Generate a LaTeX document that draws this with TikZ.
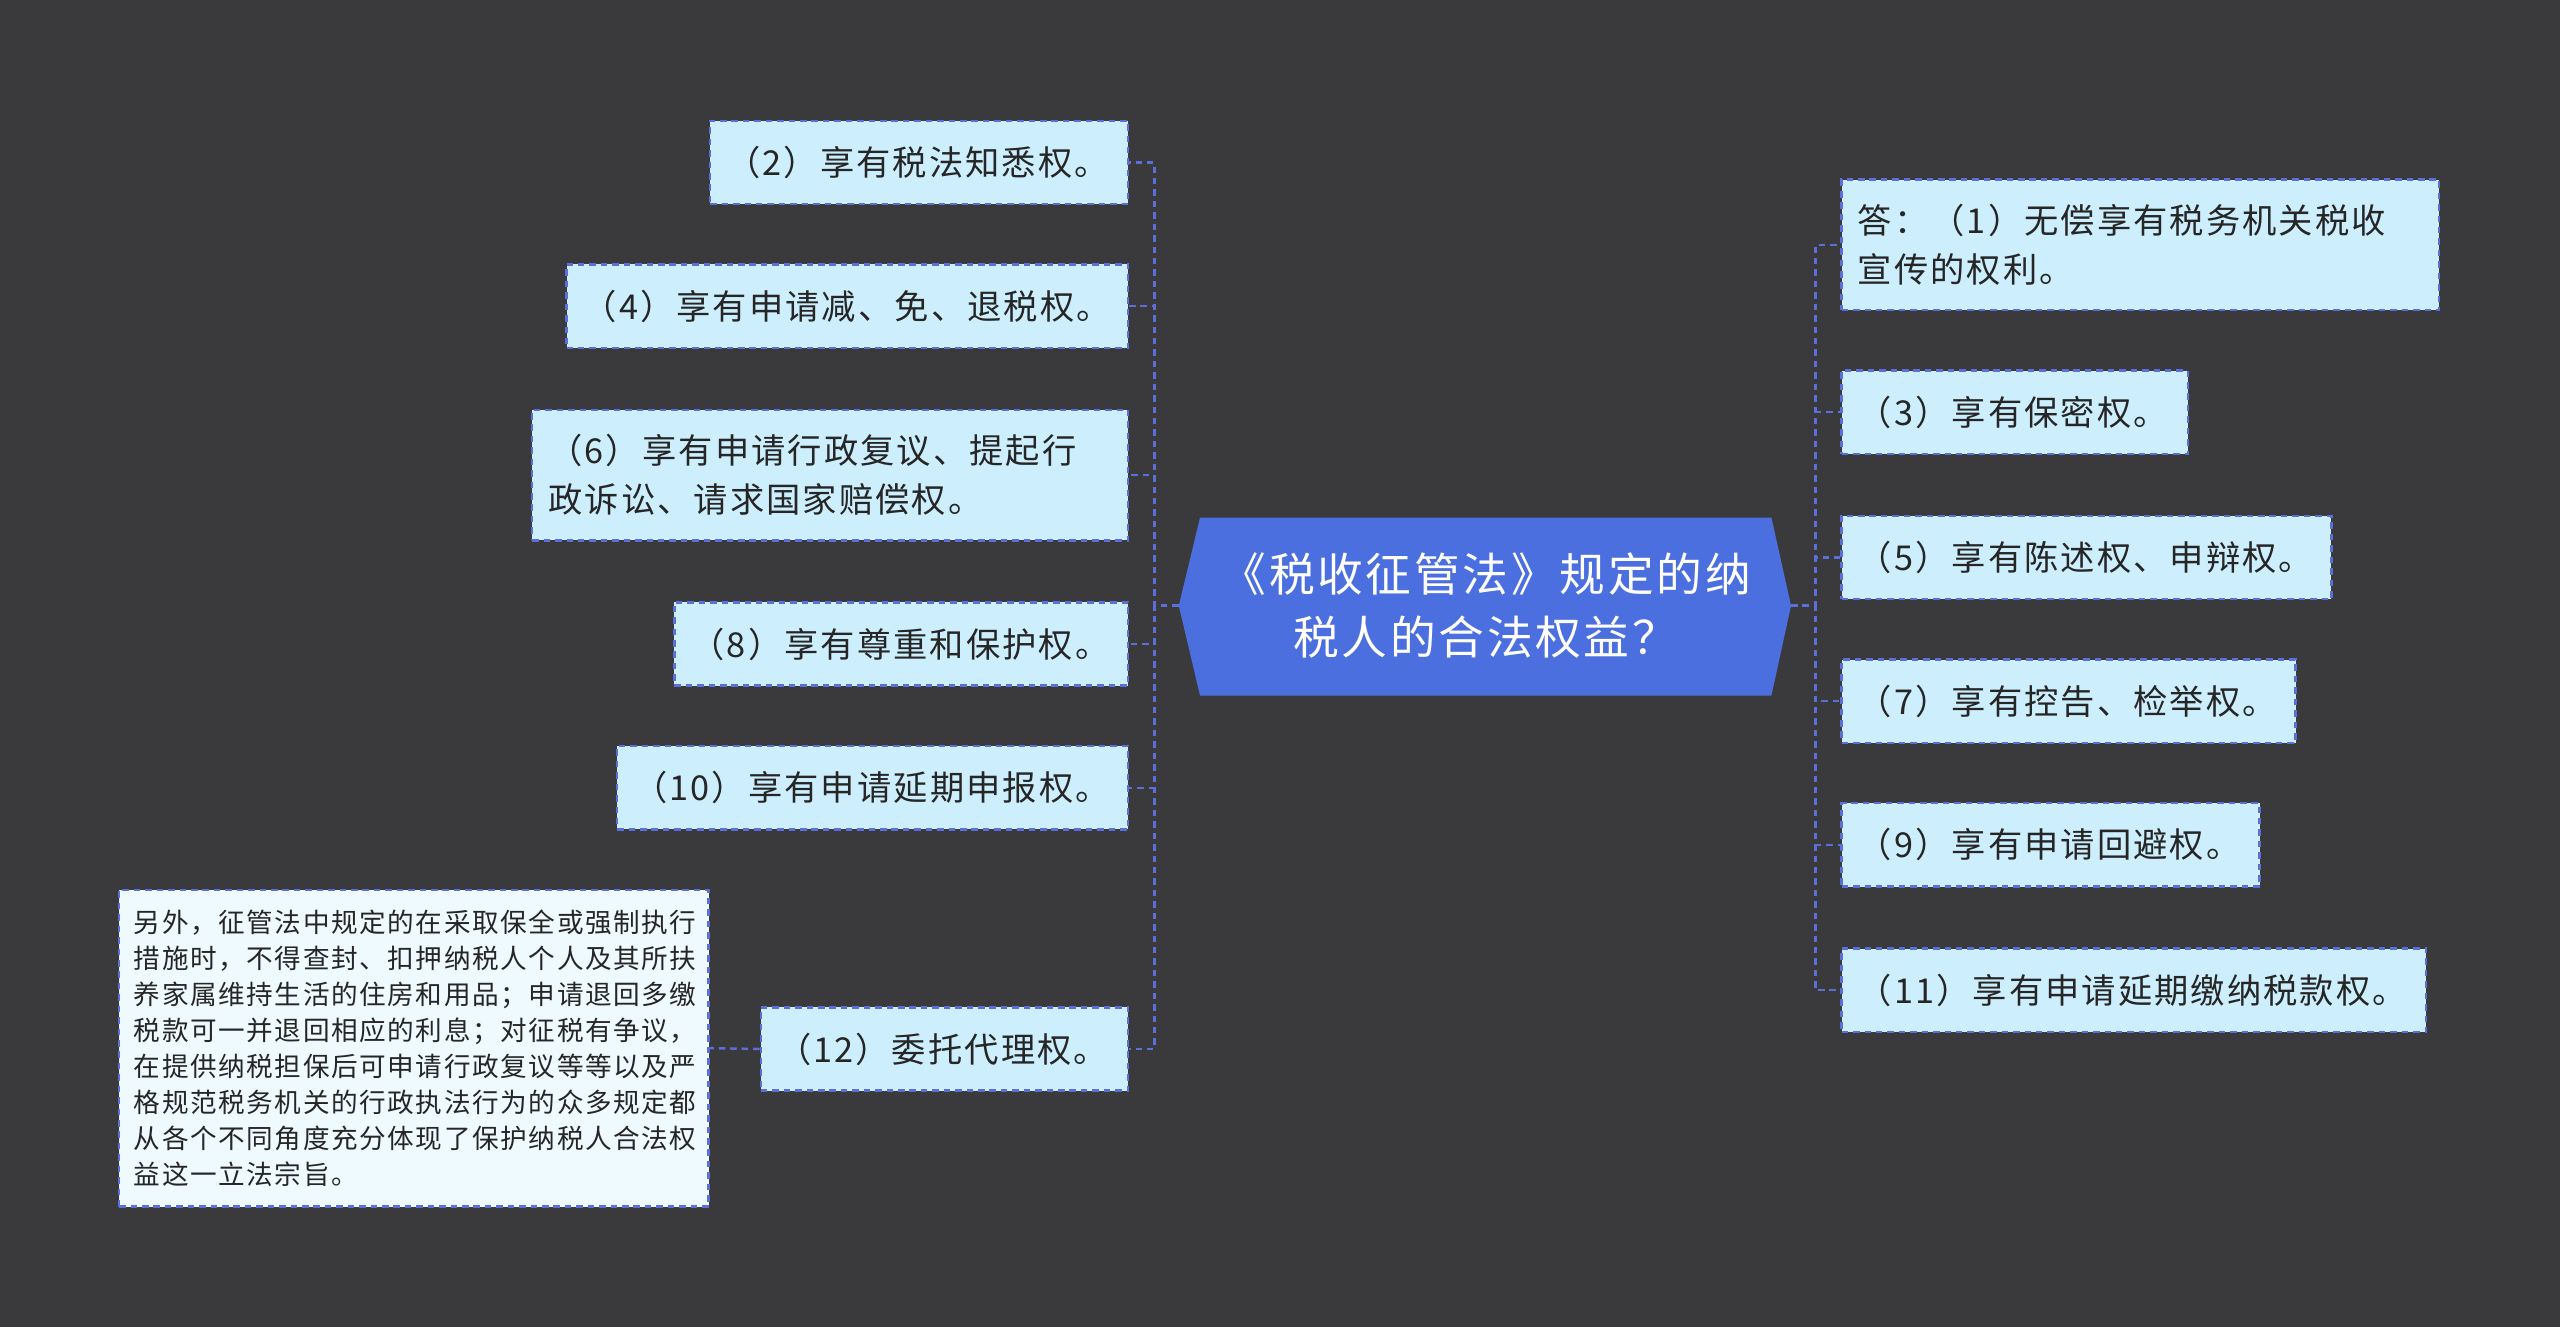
\documentclass[tikz,border=0pt]{standalone}
\usepackage{fontspec}
\newfontfamily\cjk[LetterSpace=6]{Noto Sans CJK SC}
\begin{document}
\begin{tikzpicture}[x=1pt,y=-1pt,
  line/.style={draw=lineblue,dashed,line width=1.5pt,dash pattern=on 4pt off 3pt},
  box/.style={line,fill=boxfill,inner xsep=10pt,inner ysep=0pt,align=left,font=\cjk\fontsize{21}{30}\selectfont,text=black!85},
  notebox/.style={line,fill=notefill,inner xsep=9pt,inner ysep=0pt,align=left,font=\cjk\fontsize{16.3}{22}\selectfont,text=black!85}]
\definecolor{bg}{HTML}{3A3A3C}
\definecolor{lineblue}{HTML}{5B6FD8}
\definecolor{boxfill}{HTML}{CDEFFD}
\definecolor{notefill}{HTML}{EEFAFD}
\definecolor{cblue}{HTML}{4C6FE0}
\fill[bg] (0,0) rectangle (1568,813);
\useasboundingbox (0,0) rectangle (1568,813);
% center
\fill[cblue] (722,371) -- (735,317) -- (1085,317) -- (1097,371) -- (1085,426) -- (735,426) -- cycle;
\node[font=\cjk\fontsize{28}{39}\selectfont,text=white,align=center] (c) at (910,371) {《税收征管法》规定的纳\\税人的合法权益？};
\coordinate (cl) at (722,371);
\coordinate (cr) at (1097,371);
% left
\node[box,minimum width=256,minimum height=51,text width=236] (n2) at (563,99.5) {（2）享有税法知悉权。};
\node[box,minimum width=344,minimum height=51,text width=324] (n4) at (519,187.5) {（4）享有申请减、免、退税权。};
\node[box,minimum width=365,minimum height=80,text width=345] (n6) at (508.5,291) {（6）享有申请行政复议、提起行\\政诉讼、请求国家赔偿权。};
\node[box,minimum width=278,minimum height=51,text width=258] (n8) at (552,394.5) {（8）享有尊重和保护权。};
\node[box,minimum width=313,minimum height=51,text width=293] (n10) at (534.5,482.5) {（10）享有申请延期申报权。};
\node[box,minimum width=225,minimum height=51,text width=205] (n12) at (578.5,642.5) {（12）委托代理权。};
\node[notebox,minimum width=361,minimum height=194,text width=343] (note) at (253.5,642) {另外，征管法中规定的在采取保全或强制执行\\措施时，不得查封、扣押纳税人个人及其所扶\\养家属维持生活的住房和用品；申请退回多缴\\税款可一并退回相应的利息；对征税有争议，\\在提供纳税担保后可申请行政复议等等以及严\\格规范税务机关的行政执法行为的众多规定都\\从各个不同角度充分体现了保护纳税人合法权\\益这一立法宗旨。};
% right
\node[box,minimum width=366,minimum height=80,text width=346] (n1) at (1311,150) {答：（1）无偿享有税务机关税收\\宣传的权利。};
\node[box,minimum width=212,minimum height=51,text width=192] (n3) at (1234,252.5) {（3）享有保密权。};
\node[box,minimum width=300,minimum height=51,text width=280] (n5) at (1278,341.5) {（5）享有陈述权、申辩权。};
\node[box,minimum width=278,minimum height=51,text width=258] (n7) at (1267,429.5) {（7）享有控告、检举权。};
\node[box,minimum width=256,minimum height=51,text width=236] (n9) at (1256,517.5) {（9）享有申请回避权。};
\node[box,minimum width=358,minimum height=51,text width=338] (n11) at (1307,606.5) {（11）享有申请延期缴纳税款权。};
% connectors
\foreach \n in {n2,n4,n6,n8,n10,n12}
  \draw[line] (cl) -- (707,371) |- (\n.east);
\foreach \n in {n1,n3,n5,n7,n9,n11}
  \draw[line] (cr) -- (1112,371) |- (\n.west);
\draw[line] (n12.west) -- (note.east);
\end{tikzpicture}
\end{document}
